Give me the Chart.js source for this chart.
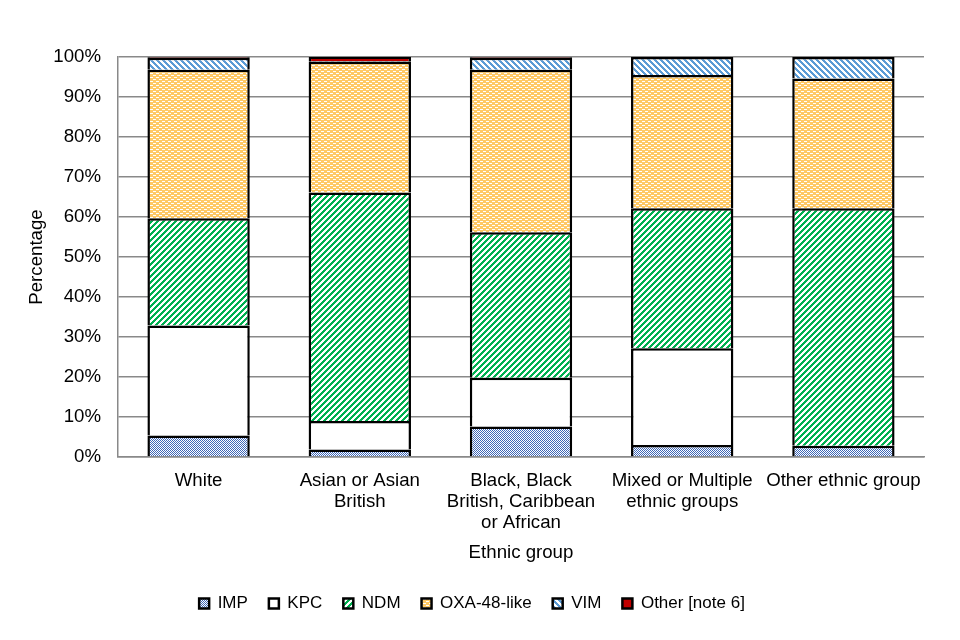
<!DOCTYPE html>
<html>
<head>
<meta charset="utf-8">
<script src="https://cdn.jsdelivr.net/npm/chart.js@4/dist/chart.umd.min.js"></script>
<style>
  html, body { margin: 0; padding: 0; background: #fff; }
  #wrap { width: 960px; height: 640px; }
</style>
</head>
<body>
<div id="wrap"><canvas id="chart"></canvas></div>
<script>
// --- data ---
const groups = [
    'White',
    ['Asian or Asian', 'British'],
    ['Black, Black', 'British, Caribbean', 'or African'],
    ['Mixed or Multiple', 'ethnic groups'],
    'Other ethnic group'
];
const imp   = [5.4, 1.9, 7.6, 3.0, 2.8];
const kpc   = [27.5, 7.1, 12.2, 24.2, 0.0];
const ndm   = [26.8, 57.1, 36.4, 35.0, 59.4];
const oxa48 = [37.1, 32.7, 40.6, 33.3, 32.4];
const vim   = [3.0, 0.2, 3.0, 4.5, 5.4];
const other = [0.2, 1.0, 0.2, 0.0, 0.0];

// --- fill patterns (excel style) ---
function tile(w, h, draw) {
    const c = document.createElement('canvas');
    c.width = w; c.height = h;
    const g = c.getContext('2d');
    draw(g, w, h);
    return g.createPattern(c, 'repeat');
}

const impFill = tile(4, 4, (g) => {
    g.fillStyle = '#ffffff'; g.fillRect(0, 0, 4, 4);
    g.fillStyle = '#3f68b8';
    g.fillRect(0, 0, 1, 1); g.fillRect(2, 0, 1, 1);
    g.fillRect(1, 1, 1, 1); g.fillRect(3, 1, 1, 1);
    g.fillRect(0, 2, 1, 1); g.fillRect(2, 2, 1, 1);
    g.fillRect(1, 3, 1, 1); g.fillRect(3, 3, 1, 1);
});

const ndmFill = tile(6, 6, (g) => {
    g.fillStyle = '#ffffff'; g.fillRect(0, 0, 6, 6);
    g.fillStyle = '#00b050';
    for (let y = 0; y < 6; y++) {
        const x = 5 - y;
        g.fillRect(x, y, 3, 1);
        g.fillRect(x - 6, y, 3, 1);
    }
});

const oxaFill = tile(6, 4, (g) => {
    g.fillStyle = '#ffc966'; g.fillRect(0, 0, 6, 4);
    g.fillStyle = '#ffffff';
    g.fillRect(0, 1, 3, 1);
    g.fillRect(3, 3, 3, 1);
});

const vimFill = tile(6, 6, (g) => {
    g.fillStyle = '#ffffff'; g.fillRect(0, 0, 6, 6);
    g.fillStyle = '#5b9bd5';
    for (let y = 0; y < 6; y++) {
        g.fillRect(y, y, 3, 1);
        g.fillRect(y - 6, y, 3, 1);
    }
});

function series(label, data, fill) {
    return {
        label: label,
        // empty segments are left out so they draw no border
        data: data.map(v => (v > 0 ? v : null)),
        backgroundColor: fill,
        borderColor: '#000000',
        borderWidth: 2.5,
        borderSkipped: 'bottom',
        categoryPercentage: 0.635,
        barPercentage: 1.0
    };
}

const family = "'Liberation Sans', Arial, sans-serif";
const font = { family: family, size: 18.67, lineHeight: 1.13 };

new Chart(document.getElementById('chart'), {
    type: 'bar',
    data: {
        labels: groups,
        datasets: [
            series('IMP', imp, impFill),
            series('KPC', kpc, '#ffffff'),
            series('NDM', ndm, ndmFill),
            series('OXA-48-like', oxa48, oxaFill),
            series('VIM', vim, vimFill),
            series('Other [note 6]', other, '#c00000')
        ]
    },
    options: {
        responsive: true,
        maintainAspectRatio: false,
        animation: false,
        devicePixelRatio: 1,
        layout: { padding: { left: 20, right: 36, top: 57, bottom: 18 } },
        plugins: {
            tooltip: { enabled: false },
            legend: {
                position: 'bottom',
                labels: {
                    color: '#000',
                    font: { family: family, size: 17 },
                    boxWidth: 10,
                    boxHeight: 10,
                    padding: 21,
                    useBorderRadius: false
                }
            }
        },
        scales: {
            x: {
                stacked: true,
                grid: { display: false },
                border: { display: true, color: '#898989', width: 1.5 },
                ticks: { color: '#000', font: font, padding: 5, maxRotation: 0, autoSkip: false },
                title: { display: true, text: 'Ethnic group', color: '#000', font: font, padding: { top: 3, bottom: 11 } },
                afterFit: (axis) => { axis.height = 117; }
            },
            y: {
                stacked: true,
                min: 0,
                max: 100,
                grid: { color: '#898989', lineWidth: 1.5, drawTicks: false },
                border: { display: true, color: '#898989', width: 1.5 },
                ticks: {
                    stepSize: 10,
                    color: '#000',
                    font: font,
                    padding: 17,
                    callback: (v) => v + '%'
                },
                title: { display: true, text: 'Percentage', color: '#000', font: font, padding: { top: 6, bottom: 4 } },
                afterFit: (axis) => { axis.width = 98; }
            }
        }
    }
});
</script>
</body>
</html>
